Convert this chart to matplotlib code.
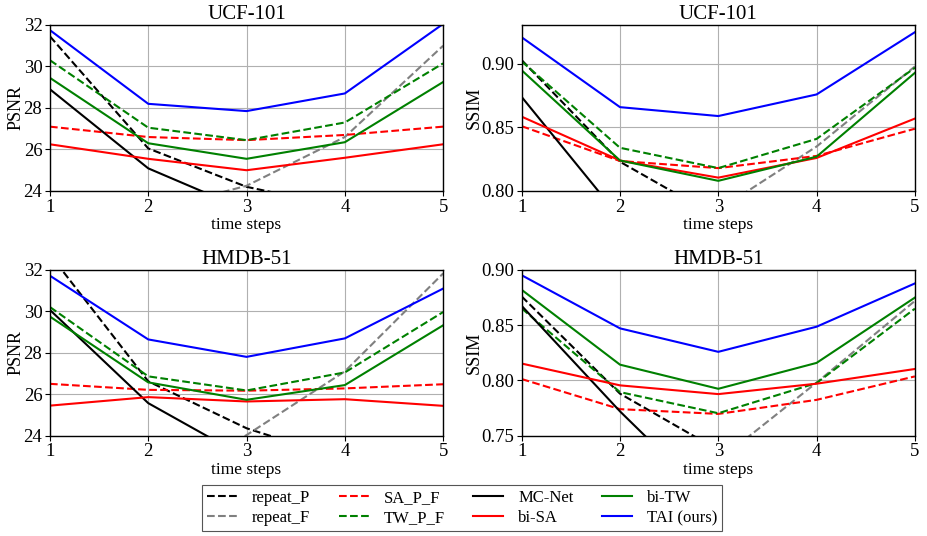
import matplotlib
matplotlib.use("Agg")
import matplotlib.pyplot as plt
from matplotlib.lines import Line2D

plt.rcParams['font.family'] = ['Liberation Serif', 'DejaVu Serif']

steps = [1, 2, 3, 4, 5]
methods = ["repeat_P", "repeat_F", "SA_P_F", "TW_P_F", "MC-Net", "bi-SA", "bi-TW", "TAI (ours)"]

# UCF-101 PSNR
ucf_psnr = {
    "repeat_P":   [31.45, 26.05, 24.2, 23.2, 22.3],
    "repeat_F":   [22.0, 23.0, 24.25, 26.6, 31.0],
    "SA_P_F":     [27.1, 26.6, 26.45, 26.7, 27.1],
    "TW_P_F":     [30.3, 27.05, 26.45, 27.3, 30.15],
    "MC-Net":     [28.9, 25.09, 23.07, 22.2, 21.5],
    "bi-SA":      [26.25, 25.55, 25.0, 25.6, 26.25],
    "bi-TW":      [29.45, 26.3, 25.55, 26.35, 29.25],
    "TAI (ours)": [31.75, 28.2, 27.85, 28.7, 32.05],
}
# UCF-101 SSIM
ucf_ssim = {
    "repeat_P":   [0.903, 0.823, 0.779, 0.76, 0.74],
    "repeat_F":   [0.74, 0.76, 0.785, 0.835, 0.898],
    "SA_P_F":     [0.851, 0.8236, 0.818, 0.8276, 0.849],
    "TW_P_F":     [0.902, 0.834, 0.818, 0.841, 0.897],
    "MC-Net":     [0.874, 0.779, 0.76, 0.745, 0.73],
    "bi-SA":      [0.8585, 0.824, 0.8105, 0.826, 0.857],
    "bi-TW":      [0.895, 0.824, 0.808, 0.827, 0.893],
    "TAI (ours)": [0.921, 0.866, 0.859, 0.876, 0.925],
}
# HMDB-51 PSNR
hmdb_psnr = {
    "repeat_P":   [32.73, 26.62, 24.36, 22.84, 21.9],
    "repeat_F":   [20.5, 21.5, 24.03, 27.1, 31.82],
    "SA_P_F":     [26.5, 26.21, 26.17, 26.28, 26.48],
    "TW_P_F":     [30.2, 26.86, 26.18, 27.05, 29.96],
    "MC-Net":     [30.06, 25.57, 22.92, 22.0, 21.2],
    "bi-SA":      [25.45, 25.86, 25.65, 25.76, 25.44],
    "bi-TW":      [29.74, 26.57, 25.73, 26.44, 29.32],
    "TAI (ours)": [31.71, 28.64, 27.8, 28.69, 31.09],
}
# HMDB-51 SSIM
hmdb_ssim = {
    "repeat_P":   [0.8758, 0.788, 0.737, 0.71, 0.69],
    "repeat_F":   [0.64, 0.66, 0.7274, 0.798, 0.8718],
    "SA_P_F":     [0.8012, 0.774, 0.7697, 0.7824, 0.8036],
    "TW_P_F":     [0.865, 0.7894, 0.7703, 0.7976, 0.8648],
    "MC-Net":     [0.8673, 0.772, 0.685, 0.66, 0.64],
    "bi-SA":      [0.8152, 0.7955, 0.7876, 0.797, 0.8103],
    "bi-TW":      [0.8818, 0.8142, 0.7924, 0.8158, 0.8748],
    "TAI (ours)": [0.895, 0.847, 0.8258, 0.8485, 0.8876],
}

styles = {
    "repeat_P":   dict(color="black", ls="--"),
    "repeat_F":   dict(color="gray", ls="--"),
    "SA_P_F":     dict(color="red", ls="--"),
    "TW_P_F":     dict(color="green", ls="--"),
    "MC-Net":     dict(color="black", ls="-"),
    "bi-SA":      dict(color="red", ls="-"),
    "bi-TW":      dict(color="green", ls="-"),
    "TAI (ours)": dict(color="blue", ls="-"),
}

panels = [
    (ucf_psnr, "UCF-101", "PSNR", (24, 32), [24, 26, 28, 30, 32], None),
    (ucf_ssim, "UCF-101", "SSIM", (0.80, 0.9307), [0.80, 0.85, 0.90], "%.2f"),
    (hmdb_psnr, "HMDB-51", "PSNR", (24, 32), [24, 26, 28, 30, 32], None),
    (hmdb_ssim, "HMDB-51", "SSIM", (0.75, 0.90), [0.75, 0.80, 0.85, 0.90], "%.2f"),
]

fig = plt.figure(figsize=(9.27, 5.36), dpi=100)
lefts = [0.0539, 0.5628, 0.0539, 0.5628]
bottoms = [0.6437, 0.6437, 0.1871, 0.1871]
w = 0.4241
h = 0.3097

for i, (data, title, ylab, ylim, yt, fmt) in enumerate(panels):
    ax = fig.add_axes([lefts[i], bottoms[i], w, h])
    for m in methods:
        ax.plot(steps, data[m], lw=1.5, **styles[m])
    ax.set_xlim(1, 5)
    ax.set_ylim(*ylim)
    ax.set_xticks(steps)
    ax.set_yticks(yt)
    if fmt:
        ax.set_yticklabels([fmt % v for v in yt])
    ax.grid(True, color="#b0b0b0", lw=0.8)
    ax.set_title(title, fontsize=15, pad=4)
    ax.set_ylabel(ylab, fontsize=13, labelpad=-1)
    ax.set_xlabel("time steps", fontsize=12.5, labelpad=1)
    ax.tick_params(labelsize=13.5, direction="out", length=3.5, pad=2)
    for s in ax.spines.values():
        s.set_color("black")
        s.set_linewidth(1.0)

handles = [Line2D([0], [0], lw=1.5, **styles[m]) for m in methods]
leg = fig.legend(handles, methods, loc="center", bbox_to_anchor=(0.4985, 0.052),
                 ncol=4, fontsize=12, fancybox=False, edgecolor="#555555",
                 handlelength=1.8, columnspacing=1.7, handletextpad=0.9,
                 borderpad=0.3, labelspacing=0.25, framealpha=1)
leg.get_frame().set_linewidth(0.8)

fig.savefig("out.png", dpi=100)
